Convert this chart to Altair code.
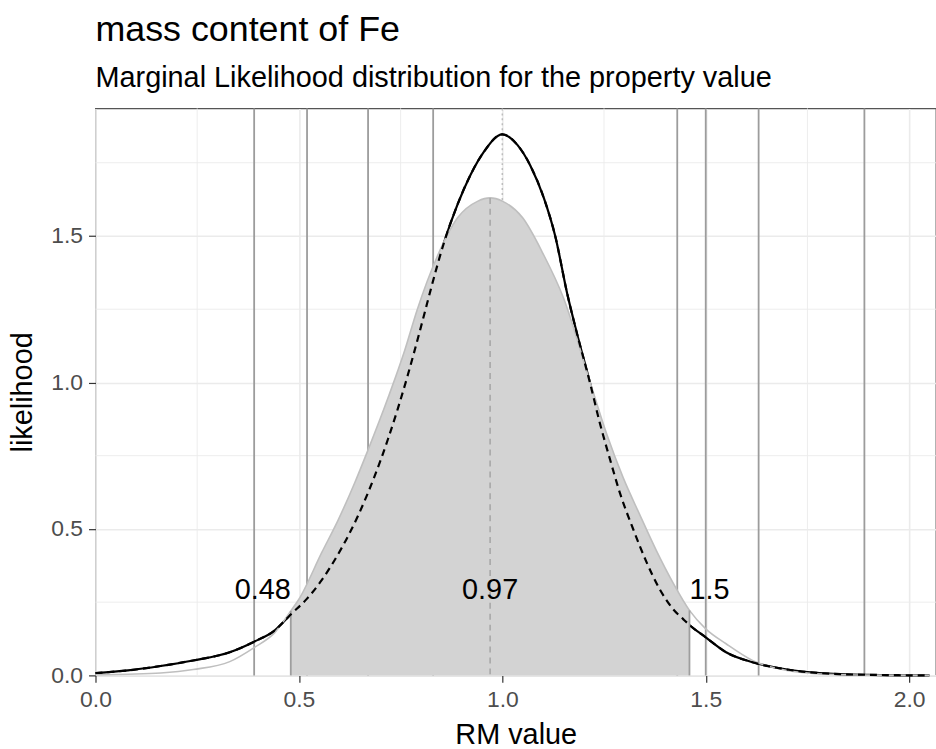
import altair as alt
import pandas as pd

# Reported laboratory values (vertical reference lines)
lab_values = [0.39, 0.52, 0.67, 0.83, 1.43, 1.50, 1.63, 1.89]

# Coverage interval, central value and reference value
interval_lo = 0.48
interval_mid = 0.97
interval_hi = 1.46
mid_height = 1.63
reference_value = 1.0

# Normal likelihood (grey curve, shaded between the interval limits)
normal_x = [0.00, 0.08, 0.16, 0.24, 0.33, 0.39, 0.44, 0.48, 0.50, 0.556, 0.597,
            0.637, 0.67, 0.72, 0.76, 0.79, 0.84, 0.89, 0.94, 0.97, 1.00, 1.05,
            1.10, 1.15, 1.216, 1.257, 1.297, 1.338, 1.379, 1.42, 1.46, 1.50,
            1.55, 1.615, 1.70, 1.80, 1.90, 2.05]
normal_y = [0.002, 0.004, 0.008, 0.020, 0.047, 0.095, 0.145, 0.220, 0.260, 0.419,
            0.532, 0.657, 0.770, 0.951, 1.109, 1.245, 1.430, 1.562, 1.619, 1.630,
            1.619, 1.562, 1.440, 1.290, 1.000, 0.822, 0.675, 0.548, 0.425, 0.315,
            0.222, 0.159, 0.108, 0.051, 0.017, 0.004, 0.001, 0.000]

# Marginal likelihood (black curve)
marg_x = [0.00, 0.08, 0.16, 0.24, 0.33, 0.39, 0.44, 0.48, 0.52, 0.556, 0.588,
          0.621, 0.645, 0.67, 0.703, 0.719, 0.743, 0.768, 0.784, 0.808, 0.825,
          0.857, 0.89, 0.922, 0.955, 1.00, 1.037, 1.069, 1.102, 1.13, 1.16,
          1.183, 1.216, 1.24, 1.265, 1.289, 1.322, 1.355, 1.387, 1.42, 1.444,
          1.46, 1.50, 1.55, 1.615, 1.70, 1.78, 1.90, 2.05]
marg_y = [0.008, 0.017, 0.032, 0.051, 0.079, 0.115, 0.153, 0.208, 0.262, 0.325,
          0.394, 0.476, 0.544, 0.624, 0.743, 0.807, 0.910, 1.027, 1.107, 1.232,
          1.322, 1.479, 1.608, 1.709, 1.788, 1.847, 1.811, 1.740, 1.630, 1.500,
          1.300, 1.170, 0.996, 0.860, 0.736, 0.623, 0.498, 0.385, 0.294, 0.226,
          0.193, 0.172, 0.130, 0.079, 0.045, 0.020, 0.008, 0.002, 0.000]

normal_df = pd.DataFrame({"x": normal_x, "y": normal_y})
marg_df = pd.DataFrame({"x": marg_x, "y": marg_y})
lab_df = pd.DataFrame({"x": lab_values})
stats_df = pd.DataFrame({"lo": [interval_lo], "mid": [interval_mid],
                         "hi": [interval_hi], "peak": [mid_height],
                         "ref": [reference_value]})

x_scale = alt.Scale(domain=[0, 2.066], nice=False, zero=False)
y_scale = alt.Scale(domain=[0, 1.9355], nice=False)

x_axis = alt.Axis(values=[0, 0.5, 1.0, 1.5, 2.0], format=".1f", title="RM value",
                  labelPadding=6, titlePadding=9, labelFlush=False)
y_axis = alt.Axis(values=[0, 0.5, 1.0, 1.5], format=".1f", title="likelihood",
                  labelPadding=6, titlePadding=13, labelFlush=False)


def X(field):
    return alt.X(field, type="quantitative", scale=x_scale, axis=x_axis, title="RM value")


def Y(field):
    return alt.Y(field, type="quantitative", scale=y_scale, axis=y_axis, title="likelihood")


# Minor grid lines
minor_x = [0.25, 0.75, 1.25, 1.75]
minor_y = [0.25, 0.75, 1.25, 1.75]

grid_minor_x = alt.Chart(pd.DataFrame({"x": minor_x})).mark_rule(
    color="#EBEBEB", strokeWidth=0.9).encode(x=X("x"))
grid_minor_y = alt.Chart(pd.DataFrame({"y": minor_y})).mark_rule(
    color="#EBEBEB", strokeWidth=0.9).encode(y=Y("y"))

lab_lines = alt.Chart(lab_df).mark_rule(color="#9C9C9C", strokeWidth=1.8).encode(
    x=X("x"))

ref_line = alt.Chart(stats_df).mark_rule(
    color="#BDBDBD", strokeWidth=1.5, strokeDash=[2, 3]).encode(x=X("ref"))

in_interval = f"datum.x >= {interval_lo} && datum.x <= {interval_hi}"

# Solid marginal curve underneath: only visible where it is not covered by the shading
marg_solid = alt.Chart(marg_df).mark_line(
    color="black", strokeWidth=2.2, interpolate="monotone").encode(x=X("x"), y=Y("y"))

shade = alt.Chart(normal_df).transform_filter(in_interval).mark_area(
    color="#D3D3D3", interpolate="monotone").encode(x=X("x"), y=Y("y"))

normal_line = alt.Chart(normal_df).mark_line(
    color="#BFBFBF", strokeWidth=1.6, interpolate="monotone").encode(
    x=X("x"), y=Y("y"))

edges = alt.Chart(normal_df).transform_filter(
    f"datum.x == {interval_lo} || datum.x == {interval_hi}"
).mark_rule(color="#9E9E9E", strokeWidth=1.8).encode(
    x=X("x"), y=Y("y"), y2=alt.datum(0))

mid_line = alt.Chart(stats_df).mark_rule(
    color="#A8A8A8", strokeWidth=1.6, strokeDash=[6, 5]).encode(
    x=X("mid"), y=Y("peak"), y2=alt.datum(0))

# Dashed marginal curve on top
marg_dashed = alt.Chart(marg_df).mark_line(
    color="black", strokeWidth=2.2, strokeDash=[7, 5], interpolate="monotone").encode(
    x=X("x"), y=Y("y"))

label_y = 0.29
text_style = dict(fontSize=29, font="Liberation Sans", color="black", baseline="middle")
lab_lo = alt.Chart(stats_df).mark_text(align="right", **text_style).encode(
    x=X("lo"), y=alt.datum(label_y), text=alt.Text("lo:Q", format=".2r"))
lab_mid = alt.Chart(stats_df).mark_text(align="center", **text_style).encode(
    x=X("mid"), y=alt.datum(label_y), text=alt.Text("mid:Q", format=".2r"))
lab_hi = alt.Chart(stats_df).mark_text(align="left", **text_style).encode(
    x=X("hi"), y=alt.datum(label_y), text=alt.Text("hi:Q", format=".2r"))

chart = alt.layer(
    grid_minor_x, grid_minor_y, lab_lines, ref_line, marg_solid, shade, normal_line,
    edges, mid_line, marg_dashed, lab_lo, lab_mid, lab_hi,
).properties(
    width=845, height=570,
    autosize=alt.AutoSizeParams(type="none"),
    padding={"left": 96, "top": 107, "right": 0, "bottom": 72},
    background="white",
    title=alt.TitleParams(
        text="mass content of Fe",
        subtitle="Marginal Likelihood distribution for the property value",
        anchor="start", frame="group", fontSize=36, subtitleFontSize=29,
        font="Liberation Sans", subtitleFont="Liberation Sans",
        fontWeight="normal", color="black", subtitleColor="black",
        subtitlePadding=15, offset=14,
    ),
).configure_view(
    stroke="#555555", strokeWidth=1.3,
).configure_axis(
    labelFont="Liberation Sans", titleFont="Liberation Sans",
    labelFontSize=23, labelColor="#4D4D4D",
    titleFontSize=29, titleColor="black", titleFontWeight="normal",
    tickColor="#333333", tickSize=7, tickWidth=1.2,
    domain=False, grid=True, gridColor="#EBEBEB", gridWidth=1.6,
)

chart.save("out.html", embed_options={"renderer": "svg", "actions": False})
